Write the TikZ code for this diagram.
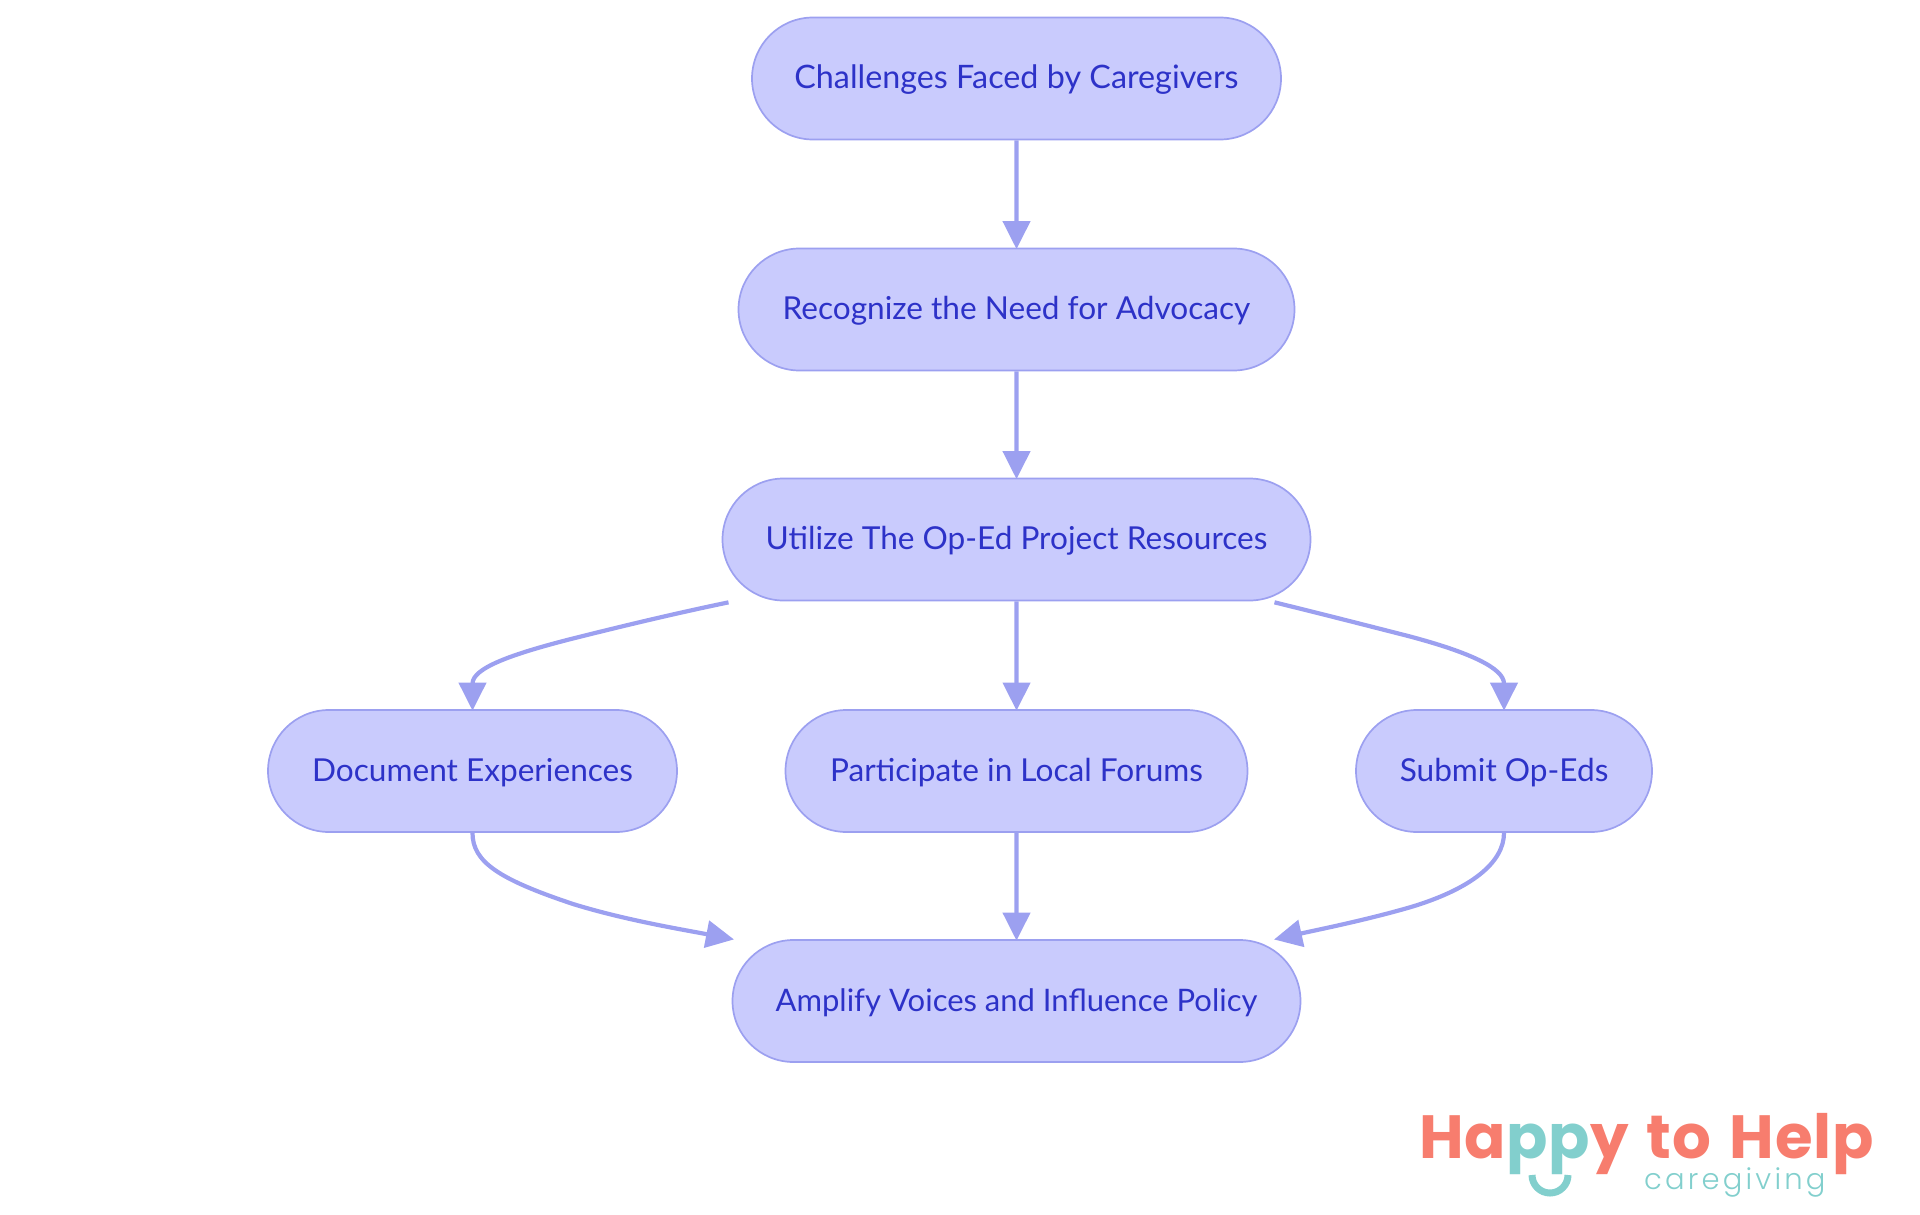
\documentclass[tikz,border=0pt]{standalone}
\usepackage{fontspec}
\usetikzlibrary{arrows.meta,shapes.misc,calc}
\setmainfont{Lato}
\newfontfamily\logofont[LetterSpace=1.7,WordSpace=1.3]{Poppins}
\newfontfamily\logolight[LetterSpace=11]{Poppins Light}
\definecolor{boxfill}{HTML}{C9CBFD}
\definecolor{boxline}{HTML}{9CA0F0}
\definecolor{boxtext}{HTML}{2D32C8}
\definecolor{coral}{HTML}{F77D6E}
\definecolor{teal2}{HTML}{82CFCD}
\tikzset{
  flow/.style={rounded rectangle,draw=boxline,fill=boxfill,line width=1.7pt,inner sep=0pt,
    minimum height=122pt,text=boxtext,font=\fontsize{31.6}{36}\selectfont,text height=24pt,text depth=4pt},
  fs/.style={font=\fontsize{#1}{36}\selectfont},
  link/.style={draw=boxline,line width=4.2pt,shorten >=-1.5pt,-{Triangle[length=28pt,width=27pt]}},
}
\begin{document}
\begin{tikzpicture}[x=1pt,y=-1pt]
\useasboundingbox (0,0) rectangle (1920,1215);
\node[flow,fs=32.3,minimum width=529pt] (A) at (1016.5,78.5) {Challenges Faced by Caregivers};
\node[flow,minimum width=556pt] (B) at (1016.5,309.5) {Recognize the Need for Advocacy};
\node[flow,minimum width=588pt] (C) at (1016.5,539.5) {Utilize The Op-Ed Project Resources};
\node[flow,minimum width=409pt] (D) at (472.5,771) {Document Experiences};
\node[flow,minimum width=462pt] (E) at (1016.5,771) {Participate in Local Forums};
\node[flow,minimum width=296pt] (F) at (1504,771) {Submit Op-Eds};
\node[flow,fs=31,minimum width=568pt] (G) at (1016.5,1001) {Amplify Voices and Influence Policy};
\draw[link] (A) -- (B);
\draw[link] (B) -- (C);
\draw[link] (C) -- (E);
\draw[link] (E) -- (G);
\coordinate (cl) at ($(C.south)+(-288,1)$);
\coordinate (cr) at ($(C.south)+(258,1)$);
\coordinate (gl) at ($(G.north)+(-284,0)$);
\coordinate (gr) at ($(G.north)+(259,0)$);
\draw[link] (cl) .. controls ($(cl)+(-53,11)$) and ($(cl)+(-103,23)$) .. ($(cl)+(-155,36)$)
  .. controls ($(cl)+(-218,52)$) and ($(D.north)+(0,-41)$) .. (D.north);
\draw[link] (cr) .. controls ($(cr)+(45,11)$) and ($(cr)+(90,22.5)$) .. ($(cr)+(135,34)$)
  .. controls ($(cr)+(195,50)$) and ($(F.north)+(0,-41)$) .. (F.north);
\draw[link] (D.south) .. controls ($(D.south)+(0,29)$) and ($(gl)+(-234,-60)$) .. ($(gl)+(-159,-35)$)
  .. controls ($(gl)+(-107,-19)$) and ($(gl)+(-52,-10)$) .. (gl);
\draw[link] (F.south) .. controls ($(F.south)+(0,30)$) and ($(gr)+(195,-50)$) .. ($(gr)+(135,-32)$)
  .. controls ($(gr)+(90,-19)$) and ($(gr)+(45,-10)$) .. (gr);
\node[anchor=base west,inner sep=0pt,text=coral,font=\logofont\bfseries\fontsize{61}{61}\selectfont] (logo) at (1419,1158)
  {Ha\textcolor{teal2}{pp}y to Help};
\node[anchor=base west,inner sep=0pt,text=teal2,font=\logolight\fontsize{29}{29}\selectfont] (sub) at (1644,1189) {caregiving};
\draw[teal2,line width=7pt] (1532,1175) arc[start angle=180,end angle=0,radius=18];
\end{tikzpicture}
\end{document}
